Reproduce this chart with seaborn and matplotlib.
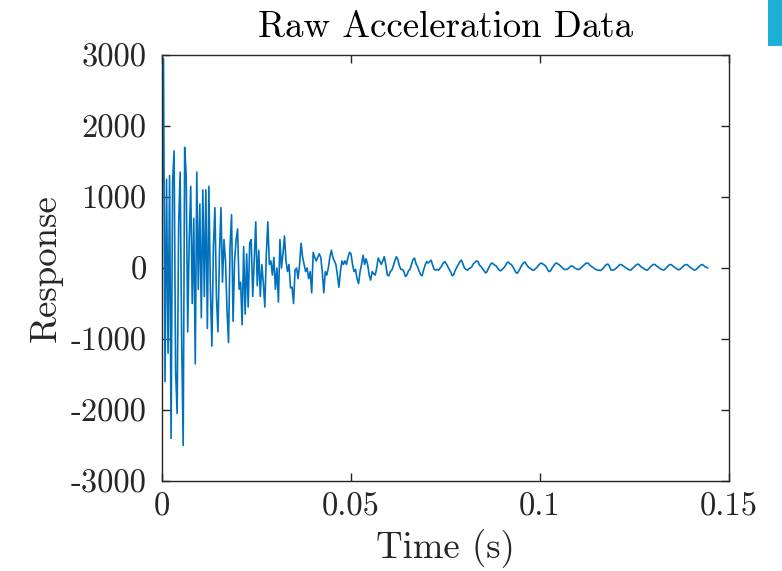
import numpy as np
import pandas as pd
import matplotlib
matplotlib.use("Agg")
import matplotlib.pyplot as plt
import seaborn as sns
from matplotlib.patches import Rectangle

# ---- data ----
sample_step = 0.0004  # s between samples

resp_early = [600, 2950, -1600, 1250, -1200, 1300, -2400, 1200, 1650, -1450,
              -2050, 600, 1350, -1000, -2500, 1700, 1300, -900, 400, 1150,
              -500, 700, -1350, 1350, -300, 900, -700, 1100, -400, 1100,
              -850, 1150, -300, -1100, 300, 850, -400, -900, 200, 850,
              -200, 400, 100, -600, -1050, 300, 750, -750, 100, 400,
              550, -300, -200, -800, 300]

resp_mid = [-650, 200, -550, 350, 400, -400, 100, 650, -250, 250,
            -400, 50, -200, -550, 200, 650, 50, 100, -100, 150,
            -300, 0, -480, 400, 0, 200, 450, 100, -50, 50,
            -280, -270, -500, -30, 0, -150, 50, 350, 150, 50,
            -50, 0, -150, -50, -350, 220, 150, 100, 150, 200,
            150, -50, -350, -50, -100, 0, 150, 250, 150, 100,
            50, -100, -270, -50, 100, 50, 100, 50, 150, 220,
            200, 50, -50, -20, -150, -220, -50, 50, 180, 50,
            130, 50, -100, -170, -50, -80, -100, 0, 140, 100,
            50, 100, 160, 50, -100, -110, -50, -30, 30, 100,
            160, 120, 30, -20, -20, -50, -120, -100, -40, -20,
            50, 120, 140, 60, 20, -40, -90, -110, -30, 40,
            90, 70, 90, 110, 40, -20, -30, -20, -30, 0,
            30, 70, 90, 60, 20, -20, -60, -110, -90, -30,
            10, 50, 90, 110, 60, 0, -20, -30, -10, 0]

resp_late = [20, 60, 80, 100, 90, 40, 20, -10, -40, -70,
             -50, 0, 40, 70, 60, 40, 30, 0, -30, -40,
             -20, 0, 30, 70, 85, 60, 50, 20, -20, -60,
             -75, -40, 0, 40, 70, 85, 50, 20, 0, -10,
             -30, -30, -10, 10, 40, 60, 70, 55, 40, 20,
             -20, -50, -40, 0, 30, 60, 70, 55, 40, 20,
             0, -20, -20, -20, 0, 20, 30, 20, 0, -10,
             -20, -20, 0, 20, 40, 60, 70, 65, 40, 20,
             10, -10, -20, -30, -30, -35, -20, 0, 30, 50,
             55, 20, -30, -30, -25, -10, 10, 30, 50, 45,
             30, 15, 0, -15, -25, -30, -10, 10, 30, 50,
             55, 35, 15, 0, -15, -25, -30, -10, 15, 35,
             50, 50, 30, 15, 0, -15, -25, -30, -10, 15,
             35, 50, 45, 25, 10, -5, -20, -25, -10, 10,
             30, 45, 50, 35, 15, 0, -15, -30, -25, -5,
             15, 35, 50, 40, 20, 10, 0]

x_ticks = [0, 0.05, 0.1, 0.15]
x_tick_labels = ["0", "0.05", "0.1", "0.15"]
y_ticks = [-3000, -2000, -1000, 0, 1000, 2000, 3000]
y_tick_labels = ["-3000", "-2000", "-1000", "0", "1000", "2000", "3000"]

response = np.array(resp_early + resp_mid + resp_late, dtype=float)
time = np.arange(len(response)) * sample_step
df = pd.DataFrame({"Time": time, "Response": response})

# ---- style ----
sns.set_style("ticks")
plt.rcParams["font.family"] = ["cmr10", "DejaVu Serif"]
plt.rcParams["mathtext.fontset"] = "cm"
plt.rcParams["axes.unicode_minus"] = False
plt.rcParams["axes.formatter.use_mathtext"] = True

fig = plt.figure(figsize=(7.82, 5.71), dpi=100)
ax = fig.add_axes([162 / 782, 1 - 481 / 571, (729 - 162) / 782, (481 - 55) / 571])

sns.lineplot(data=df, x="Time", y="Response", ax=ax, color="#0072BD",
             linewidth=1.2, estimator=None, sort=False)

ax.set_xlim(0, 0.15)
ax.set_ylim(-3000, 3000)
ax.set_xticks(x_ticks)
ax.set_xticklabels(x_tick_labels)
ax.set_yticks(y_ticks)
ax.set_yticklabels(y_tick_labels)

for s in ax.spines.values():
    s.set_visible(True)
    s.set_color("#262626")
    s.set_linewidth(1.0)

ax.tick_params(axis="both", which="major", direction="in", length=6, width=1.0,
               color="#262626", labelsize=23.5, labelcolor="#262626",
               top=True, right=True)
ax.tick_params(axis="x", pad=8)
ax.tick_params(axis="y", pad=11)

ax.set_xlabel("Time (s)", fontsize=26.5, color="#262626", labelpad=6)
ax.set_ylabel("Response", fontsize=26.5, color="#262626", labelpad=6)
ax.set_title("Raw Acceleration Data", fontsize=26.5, color="#000000", pad=13)

# cyan strip at the top-right corner of the reference screenshot
fig.patches.append(Rectangle((768 / 782, 1 - 46 / 571), 14 / 782, 46 / 571,
                             transform=fig.transFigure, facecolor="#1DB0D6",
                             edgecolor="none"))

fig.savefig("out.png", dpi=100)
